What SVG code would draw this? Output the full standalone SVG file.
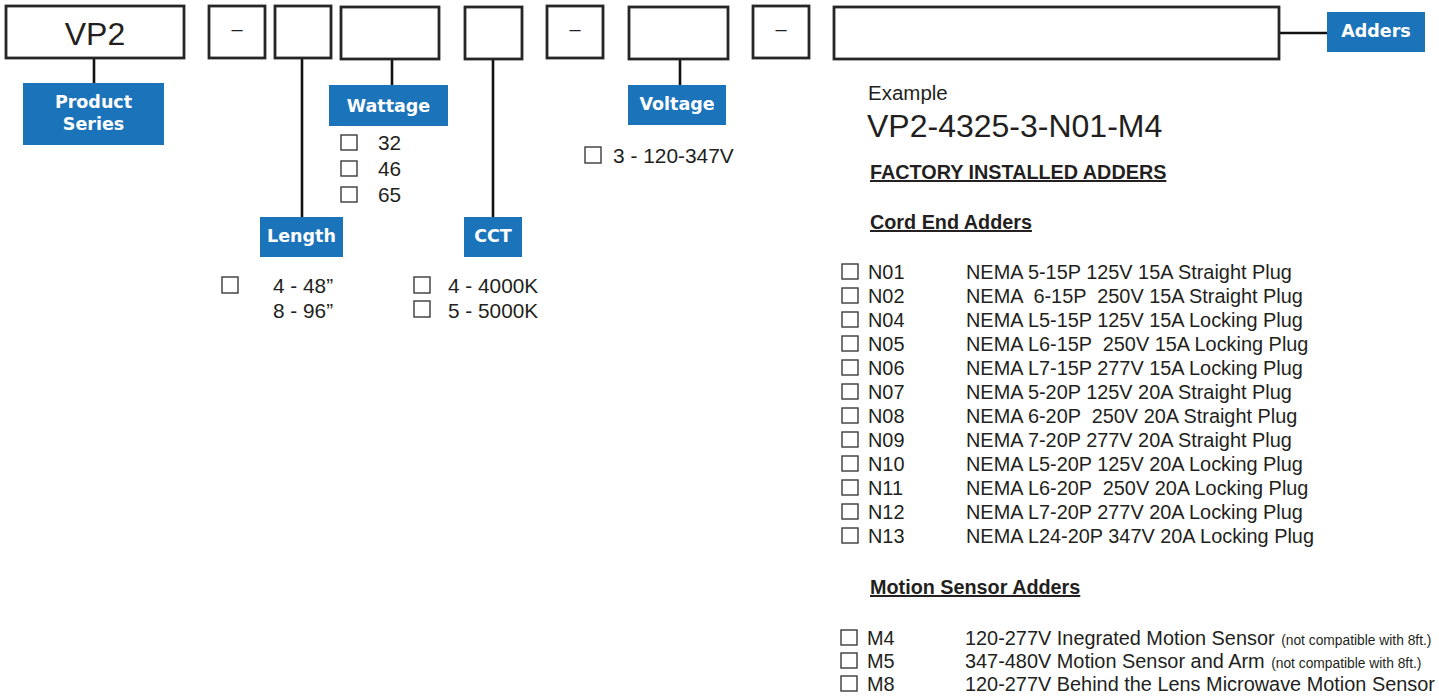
<svg xmlns="http://www.w3.org/2000/svg" width="1439" height="698" viewBox="0 0 1439 698">
<style>
.box{fill:#fff;stroke:#262626;stroke-width:2.8}
.lbl{fill:#1b74ba}
.lt{font-family:"DejaVu Sans",sans-serif;font-weight:bold;font-size:17.5px;fill:#fff;text-anchor:middle}
.t{font-family:"Liberation Sans",Arial,sans-serif;font-size:19.9px;fill:#231f20}
.h{font-family:"Liberation Sans",Arial,sans-serif;font-size:19.8px;font-weight:bold;fill:#231f20;text-decoration:underline}
.cb{fill:#fff;stroke:#3a3a3a;stroke-width:1.4}
.dash{font-family:"Liberation Sans",Arial,sans-serif;font-size:20px;fill:#231f20;text-anchor:middle}
.con{stroke:#111;stroke-width:2.6;fill:none}
.sm{font-size:13.8px}
</style>
<rect width="1439" height="698" fill="#fff"/>
<g id="connectors">
<line class="con" x1="94" y1="58" x2="94" y2="84"/>
<line class="con" x1="302" y1="58" x2="302" y2="218"/>
<line class="con" x1="392" y1="59" x2="392" y2="86"/>
<line class="con" x1="493" y1="59" x2="493" y2="218"/>
<line class="con" x1="680" y1="59" x2="680" y2="86"/>
<line class="con" x1="1279" y1="33" x2="1328" y2="33"/>
</g>
<g id="box-series"><rect class="box" x="6" y="6" width="178" height="52"/><text class="t" x="95" y="45" text-anchor="middle" style="font-size:32px">VP2</text></g>
<g id="box-dash1"><rect class="box" x="209" y="6" width="56" height="52"/><text class="dash" x="237" y="35.5">–</text></g>
<g id="box-length"><rect class="box" x="275" y="6" width="56" height="52"/></g>
<g id="box-wattage"><rect class="box" x="341" y="7" width="98" height="52"/></g>
<g id="box-cct"><rect class="box" x="465" y="7" width="57" height="52"/></g>
<g id="box-dash2"><rect class="box" x="547" y="6" width="56" height="52"/><text class="dash" x="575" y="35.5">–</text></g>
<g id="box-voltage"><rect class="box" x="629" y="7" width="99" height="52"/></g>
<g id="box-dash3"><rect class="box" x="753" y="6" width="56" height="52"/><text class="dash" x="781" y="35.5">–</text></g>
<g id="box-adders"><rect class="box" x="834" y="7" width="445" height="52"/></g>

<g id="label-series"><rect class="lbl" x="23" y="83" width="141" height="62"/><text class="lt" x="93.5" y="108">Product</text><text class="lt" x="93.5" y="130">Series</text></g>
<g id="label-wattage"><rect class="lbl" x="329" y="85" width="119" height="41"/><text class="lt" x="388.5" y="112">Wattage</text></g>
<g id="label-length"><rect class="lbl" x="260" y="217" width="83" height="40"/><text class="lt" x="301.5" y="242">Length</text></g>
<g id="label-cct"><rect class="lbl" x="464" y="217" width="58" height="40"/><text class="lt" x="493" y="242">CCT</text></g>
<g id="label-voltage"><rect class="lbl" x="628" y="85" width="98" height="40"/><text class="lt" x="677" y="110">Voltage</text></g>
<g id="label-adders"><rect class="lbl" x="1327" y="12" width="98" height="40"/><text class="lt" x="1376" y="37">Adders</text></g>

<g id="opts-wattage">
<rect class="cb" x="341" y="135" width="16" height="15"/><text class="t" x="378" y="150" style="font-size:20.8px">32</text>
<rect class="cb" x="341" y="161" width="16" height="15"/><text class="t" x="378" y="176" style="font-size:20.8px">46</text>
<rect class="cb" x="341" y="187" width="16" height="15"/><text class="t" x="378" y="202" style="font-size:20.8px">65</text>
</g>
<g id="opts-length">
<rect class="cb" x="222" y="277" width="16" height="16"/><text class="t" x="273" y="293" style="font-size:20.8px">4 - 48”</text>
<text class="t" x="273" y="318" style="font-size:20.8px">8 - 96”</text>
</g>
<g id="opts-cct">
<rect class="cb" x="414" y="277" width="16" height="16"/><text class="t" x="448" y="293" style="font-size:20.8px">4 - 4000K</text>
<rect class="cb" x="414" y="301" width="16" height="16"/><text class="t" x="448" y="318" style="font-size:20.8px">5 - 5000K</text>
</g>
<g id="opts-voltage">
<rect class="cb" x="585" y="147" width="16" height="16"/><text class="t" x="613" y="163" style="font-size:20.9px">3 - 120-347V</text>
</g>

<g id="example">
<text class="t" x="868" y="100" style="font-size:20.5px">Example</text>
<text class="t" x="867" y="137" style="font-size:32px">VP2-4325-3-N01-M4</text>
</g>
<g id="adders-list">
<text class="h" x="870" y="179">FACTORY INSTALLED ADDERS</text>
<text class="h" x="870" y="229">Cord End Adders</text>
<g id="cord-rows">
<rect class="cb" x="842" y="264" width="16" height="15"/><text class="t" x="868" y="279">N01</text><text class="t" x="966" y="279">NEMA 5-15P 125V 15A Straight Plug</text>
<rect class="cb" x="842" y="288" width="16" height="15"/><text class="t" x="868" y="303">N02</text><text class="t" x="966" y="303" xml:space="preserve">NEMA  6-15P  250V 15A Straight Plug</text>
<rect class="cb" x="842" y="312" width="16" height="15"/><text class="t" x="868" y="327">N04</text><text class="t" x="966" y="327">NEMA L5-15P 125V 15A Locking Plug</text>
<rect class="cb" x="842" y="336" width="16" height="15"/><text class="t" x="868" y="351">N05</text><text class="t" x="966" y="351" xml:space="preserve">NEMA L6-15P  250V 15A Locking Plug</text>
<rect class="cb" x="842" y="360" width="16" height="15"/><text class="t" x="868" y="375">N06</text><text class="t" x="966" y="375">NEMA L7-15P 277V 15A Locking Plug</text>
<rect class="cb" x="842" y="384" width="16" height="15"/><text class="t" x="868" y="399">N07</text><text class="t" x="966" y="399">NEMA 5-20P 125V 20A Straight Plug</text>
<rect class="cb" x="842" y="408" width="16" height="15"/><text class="t" x="868" y="423">N08</text><text class="t" x="966" y="423" xml:space="preserve">NEMA 6-20P  250V 20A Straight Plug</text>
<rect class="cb" x="842" y="432" width="16" height="15"/><text class="t" x="868" y="447">N09</text><text class="t" x="966" y="447">NEMA 7-20P 277V 20A Straight Plug</text>
<rect class="cb" x="842" y="456" width="16" height="15"/><text class="t" x="868" y="471">N10</text><text class="t" x="966" y="471">NEMA L5-20P 125V 20A Locking Plug</text>
<rect class="cb" x="842" y="480" width="16" height="15"/><text class="t" x="868" y="495">N11</text><text class="t" x="966" y="495" xml:space="preserve">NEMA L6-20P  250V 20A Locking Plug</text>
<rect class="cb" x="842" y="504" width="16" height="15"/><text class="t" x="868" y="519">N12</text><text class="t" x="966" y="519">NEMA L7-20P 277V 20A Locking Plug</text>
<rect class="cb" x="842" y="528" width="16" height="15"/><text class="t" x="868" y="543">N13</text><text class="t" x="966" y="543">NEMA L24-20P 347V 20A Locking Plug</text>
</g>
<text class="h" x="870" y="594">Motion Sensor Adders</text>
<g id="motion-rows">
<rect class="cb" x="841" y="630" width="16" height="15"/><text class="t" x="867" y="645">M4</text><text class="t" x="965" y="645">120-277V Inegrated Motion Sensor <tspan class="sm" dx="1">(not compatible with 8ft.)</tspan></text>
<rect class="cb" x="841" y="653" width="16" height="15"/><text class="t" x="867" y="668">M5</text><text class="t" x="965" y="668">347-480V Motion Sensor and Arm <tspan class="sm" dx="1">(not compatible with 8ft.)</tspan></text>
<rect class="cb" x="841" y="676" width="16" height="15"/><text class="t" x="867" y="691">M8</text><text class="t" x="965" y="691">120-277V Behind the Lens Microwave Motion Sensor</text>
</g>
</g>
</svg>
